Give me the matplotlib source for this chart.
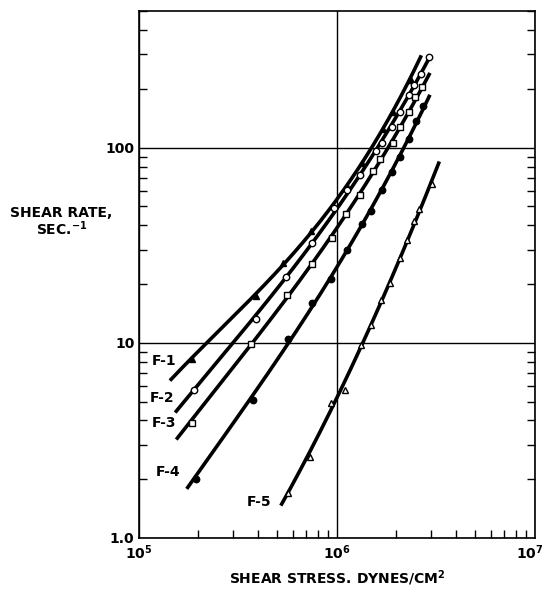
import numpy as np
import matplotlib
matplotlib.use("Agg")
import matplotlib.pyplot as plt
import matplotlib.transforms as mtransforms
from matplotlib.ticker import FixedLocator, LogLocator, NullFormatter

plt.rcParams['font.family'] = ['DejaVu Sans']
plt.rcParams['font.weight'] = 'bold'
plt.rcParams['mathtext.default'] = 'bf'

# ---------------- data ----------------
series_names = ["F-1", "F-2", "F-3", "F-4", "F-5"]

# measured points (shear stress, dynes/cm^2 ; shear rate, 1/s)
f1_x = [1.86e5, 3.91e5, 5.33e5, 7.4e5, 1.12e6, 1.34e6, 1.71e6, 1.93e6, 2.36e6]
f1_y = [8.3, 17.3, 25.5, 37.5, 63.8, 83, 125, 153, 223]

f2_x = [1.9e5, 3.91e5, 5.56e5, 7.46e5, 9.7e5, 1.13e6, 1.31e6, 1.58e6, 1.69e6,
        1.9e6, 2.09e6, 2.31e6, 2.46e6, 2.67e6, 2.91e6]
f2_y = [5.7, 13.3, 21.7, 32.6, 49, 60.8, 72, 96, 105, 128, 153, 185, 209, 239, 292]

f3_x = [1.87e5, 3.7e5, 5.62e5, 7.46e5, 9.5e5, 1.11e6, 1.31e6, 1.53e6, 1.66e6,
        1.91e6, 2.09e6, 2.3e6, 2.49e6, 2.69e6]
f3_y = [3.9, 9.9, 17.6, 25.3, 34.6, 45.7, 57.4, 75.9, 87.5, 106, 128, 153, 181, 205]

f4_x = [1.95e5, 3.79e5, 5.69e5, 7.48e5, 9.3e5, 1.13e6, 1.34e6, 1.48e6, 1.69e6,
        1.89e6, 2.09e6, 2.31e6, 2.51e6, 2.72e6]
f4_y = [2.0, 5.1, 10.5, 16, 21.2, 30, 40.4, 47.2, 60.8, 75, 89, 111, 137, 164]

f5_x = [5.65e5, 7.31e5, 9.4e5, 1.1e6, 1.33e6, 1.48e6, 1.67e6, 1.85e6, 2.09e6,
        2.25e6, 2.46e6, 2.61e6, 3.01e6]
f5_y = [1.7, 2.6, 4.9, 5.7, 9.8, 12.3, 16.6, 20.3, 27.1, 33.8, 42.2, 48.7, 65]

# ends of the drawn smooth curves (start, end)
f1_curve_x = [1.44e5, 2.67e6]
f1_curve_y = [6.47, 308]
f2_curve_x = [1.53e5, 2.95e6]
f2_curve_y = [4.45, 300]
f3_curve_x = [1.55e5, 2.95e6]
f3_curve_y = [3.29, 234]
f4_curve_x = [1.75e5, 2.95e6]
f4_curve_y = [1.87, 183]
f5_curve_x = [5.22e5, 3.29e6]
f5_curve_y = [1.52, 82]

# curve label anchor positions (data coords)
label_x = [1.35e5, 1.31e5, 1.34e5, 1.41e5, 4.07e5]
label_y = [8.05, 5.2, 3.86, 2.19, 1.52]

x_ticks = [1e5, 1e6, 1e7]
x_ticklabels = [r"$\mathbf{10^{5}}$", r"$\mathbf{10^{6}}$", r"$\mathbf{10^{7}}$"]
y_ticks = [1, 10, 100]
y_ticklabels = ["1.0", "10", "100"]

# ---------------- figure ----------------
fig = plt.figure(figsize=(5.46, 5.89), dpi=100)
ax = fig.add_axes([0.2537, 0.0866, 0.980 - 0.2537, 0.981 - 0.0866])

ax.set_xscale("log")
ax.set_yscale("log")
ax.set_xlim(1e5, 1e7)
ax.set_ylim(1.0, 500)

series = [
    (f1_x, f1_y, f1_curve_x, f1_curve_y, 3, dict(marker="^", mfc="black")),
    (f2_x, f2_y, f2_curve_x, f2_curve_y, 3, dict(marker="o", mfc="white")),
    (f3_x, f3_y, f3_curve_x, f3_curve_y, 3, dict(marker="s", mfc="white")),
    (f4_x, f4_y, f4_curve_x, f4_curve_y, 3, dict(marker="o", mfc="black")),
    (f5_x, f5_y, f5_curve_x, f5_curve_y, 2, dict(marker="^", mfc="white")),
]

for (px, py, cx, cy, deg, mstyle), name, lx, ly in zip(series, series_names, label_x, label_y):
    allx = np.log10(np.concatenate([[cx[0]], px, [cx[1]]]))
    ally = np.log10(np.concatenate([[cy[0]], py, [cy[1]]]))
    coef = np.polyfit(allx, ally, deg)
    xs = np.linspace(allx[0], allx[-1], 200)
    ys = np.polyval(coef, xs)
    ax.plot(10 ** xs, 10 ** ys, color="black", lw=2.6, solid_capstyle="butt", zorder=3)
    ax.plot(px, py, linestyle="none", mec="black", mew=1.0, ms=4.6, zorder=4, **mstyle)
    ax.text(lx, ly, name, ha="center", va="center", fontsize=10, fontweight="bold")

# axes styling
for s in ax.spines.values():
    s.set_linewidth(1.2)
ax.grid(True, which="major", color="black", lw=1.0)
ax.set_axisbelow(True)

ax.xaxis.set_major_locator(FixedLocator(x_ticks))
ax.set_xticklabels(x_ticklabels)
ax.yaxis.set_major_locator(FixedLocator(y_ticks))
ax.set_yticklabels(y_ticklabels)
ax.xaxis.set_minor_locator(LogLocator(base=10, subs=np.arange(2, 10)))
ax.yaxis.set_minor_locator(LogLocator(base=10, subs=np.arange(2, 10)))
ax.xaxis.set_minor_formatter(NullFormatter())
ax.yaxis.set_minor_formatter(NullFormatter())

ax.tick_params(axis="both", which="major", length=0, labelsize=10)
ax.tick_params(axis="x", which="major", pad=4)
ax.tick_params(axis="y", which="major", pad=3)
ax.tick_params(axis="x", which="minor", direction="in", length=5.5, width=1.0,
               bottom=True, top=False)
ax.tick_params(axis="y", which="minor", direction="in", length=5.5, width=1.0,
               left=True, right=True)
for lab in ax.get_xticklabels() + ax.get_yticklabels():
    lab.set_fontweight("bold")

# keep the last x tick label inside the figure edge
last = ax.get_xticklabels()[-1]
last.set_transform(last.get_transform() +
                   mtransforms.ScaledTranslation(-5 / 100, 0, fig.dpi_scale_trans))

fig.text(61 / 546, 1 - 213 / 589, "SHEAR RATE,", ha="center", va="center",
         fontsize=10, fontweight="bold")
fig.text(62 / 546, 1 - 229 / 589, r"SEC.$^{\mathbf{-1}}$", ha="center", va="center",
         fontsize=10, fontweight="bold")
fig.text(337 / 546, 1 - 578 / 589, r"SHEAR STRESS. DYNES/CM$^{\mathbf{2}}$",
         ha="center", va="center", fontsize=10, fontweight="bold")

fig.savefig("out.png", dpi=100)
